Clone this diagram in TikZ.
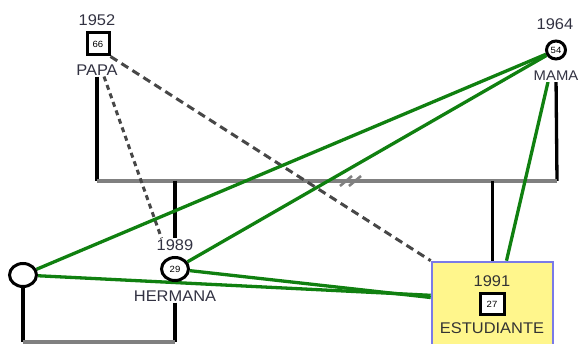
\documentclass[tikz,border=0pt]{standalone}
\usepackage{fontspec}
\setmainfont{Liberation Sans}[FakeStretch=1.06]
\usetikzlibrary{positioning,shapes.geometric,backgrounds}
\definecolor{relgreen}{RGB}{16,128,16}
\definecolor{boxyellow}{RGB}{255,246,140}
\definecolor{boxblue}{RGB}{122,122,232}
\definecolor{txtgray}{RGB}{50,50,66}

\begin{document}
\begin{tikzpicture}[x=1pt, y=-1pt,
  male/.style={draw=black, line width=3pt, minimum size=21pt, inner sep=0pt,
               fill=white, font=\fontsize{9}{9}\selectfont},
  female/.style={ellipse, draw=black, line width=3pt, minimum width=27pt,
                 minimum height=23pt, inner sep=0pt, fill=white,
                 font=\fontsize{9}{9}\selectfont},
  yr/.style={font=\fontsize{15.5}{16}\selectfont, text=txtgray, inner sep=1pt},
  nm/.style={font=\fontsize{15.5}{16}\selectfont, text=txtgray, fill=white, inner sep=1pt},
  ego/.style={draw=boxblue, line width=2.6pt, fill=boxyellow,
              minimum width=121pt, minimum height=84pt},
  kin/.style={line width=3.3pt, draw=black},
  union/.style={line width=3.3pt, draw=black!50},
  close/.style={line width=3.3pt, draw=relgreen},
  distant/.style={line width=3pt, draw=black!72, dash pattern=on 8pt off 5pt},
  distant2/.style={line width=3pt, draw=black!72, dash pattern=on 5pt off 4pt}
]
\useasboundingbox (0,0) rectangle (579,344);

% padres
\node[yr]   (papayr) at (97,20) {1952};
\node[male, minimum size=22pt] (papa) at (98,44) {66};
\node[nm]   (papanm) at (97,70) {PAPA};

\node[yr]     (mamayr) at (555,24) {1964};
\node[female, minimum width=19pt, minimum height=18pt] (mama) at (556,50) {54};
\node[nm, font=\fontsize{14}{15}\selectfont] (mamanm) at (556,76) {MAMA};

% hijos
\node[yr]     (sisyr) at (175,245) {1989};
\node[female] (sis)   at (175,269) {29};
\node[nm]     (sisnm) at (175,296) {HERMANA};

\node[female] (lw) at (23,275) {};

\node[ego] (est) at (492.5,304) {};
\node[yr, text=black!80]  (estyr) at (492,281) {1991};
\node[male, minimum width=24pt, minimum height=21pt] (estage) at (492,304) {27};
\node[yr, text=black!80]  (estnm) at (492,328) {ESTUDIANTE};

\coordinate (pa) at (97,181);
\coordinate (ma) at (557,181);
\coordinate (div) at (350,181);
\coordinate (bl) at (23,342);
\coordinate (br) at (175,342);

\begin{scope}[on background layer]
\draw[kin] (papanm) -- (pa);
\draw[kin] (mamanm) -- (ma);
\draw[union] (pa) -- (ma);
\draw[kin] (sisyr.north |- pa) -- (sisyr.north);
\draw[kin] (est.north |- pa) -- (est.north);

\draw[kin] (lw) -- (bl);
\draw[kin] (sisnm) -- (br);
\draw[union] (bl) -- (br);

\draw[distant] (papa.south east) -- (est.north west);
\draw[distant2] ([xshift=7pt]papanm.south) -- ([xshift=6pt]sisyr.north west);

\draw[close] (mama) -- (lw);
\draw[close] (mama) -- (sis);
\draw[close] ([xshift=-8pt]mamanm.south) -- ([xshift=14pt]est.north);
\draw[close] (sis) -- (est.174);
\draw[close] (lw) -- (est.172);
\end{scope}

% corte
\draw[union, line width=2.6pt] ([xshift=-4pt]div) ++(-6,5) -- ++(12,-10);
\draw[union, line width=2.6pt] ([xshift=5pt]div) ++(-6,5) -- ++(12,-10);
\end{tikzpicture}
\end{document}
